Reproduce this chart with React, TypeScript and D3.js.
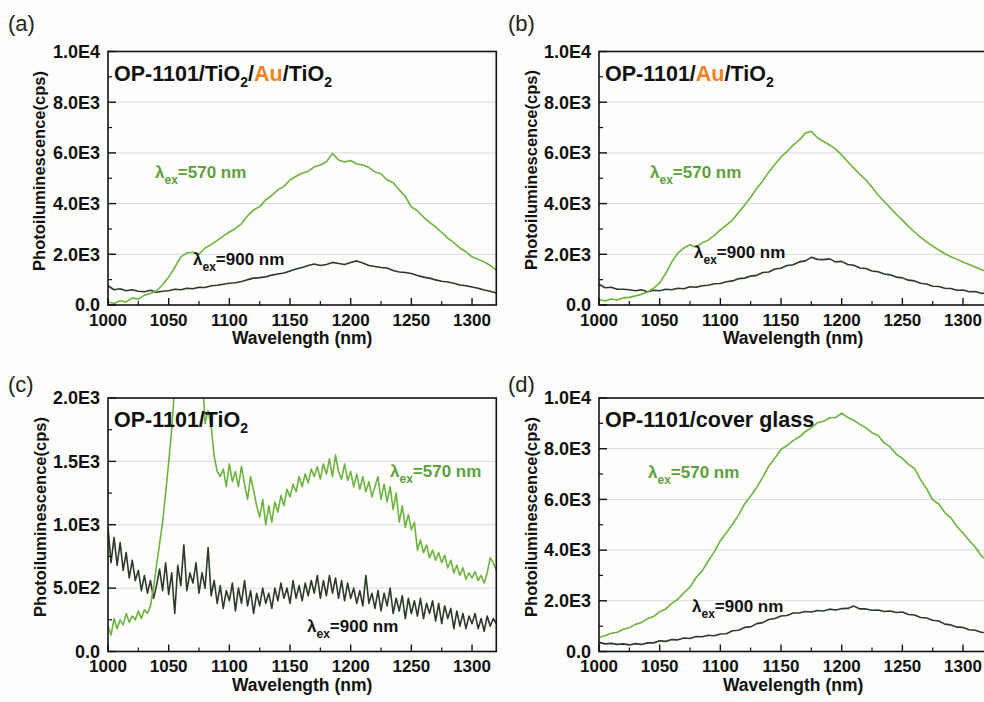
import React from 'react';
import * as d3 from 'd3';

// ---------- data ----------
const WL_MIN = 1000;
const WL_MAX = 1320;
const xTickValues = [1000, 1050, 1100, 1150, 1200, 1250, 1300];
const xTickLabels = ['1000', '1050', '1100', '1150', '1200', '1250', '1300'];
const xMinorTicks = [1025, 1075, 1125, 1175, 1225, 1275];

const yTicksE4 = [0, 2000, 4000, 6000, 8000, 10000];
const yLabelsE4 = ['0.0', '2.0E3', '4.0E3', '6.0E3', '8.0E3', '1.0E4'];
const yMinorE4 = [1000, 3000, 5000, 7000, 9000];
const yTicksC = [0, 500, 1000, 1500, 2000];
const yLabelsC = ['0.0', '5.0E2', '1.0E3', '1.5E3', '2.0E3'];
const yMinorC = [250, 750, 1250, 1750];

// 5 nm sampling, 1000..1320 nm
const greenA = [120, 60, 170, 120, 280, 230, 390, 450, 560, 800, 1100, 1480, 1900, 2050, 2080, 2000, 2250, 2380, 2550, 2720, 2880, 3020, 3200, 3520, 3750, 3880, 4150, 4320, 4540, 4680, 4930, 5080, 5200, 5280, 5450, 5520, 5650, 5980, 5720, 5640, 5700, 5560, 5520, 5420, 5250, 5180, 4930, 4820, 4540, 4280, 3870, 3720, 3470, 3260, 3080, 2860, 2640, 2460, 2250, 2100, 1900, 1800, 1700, 1560, 1380];
const darkA = [760, 600, 640, 560, 600, 540, 520, 580, 500, 540, 560, 620, 600, 660, 640, 700, 690, 760, 780, 820, 860, 880, 930, 1000, 1060, 1080, 1110, 1180, 1220, 1260, 1340, 1420, 1480, 1560, 1620, 1560, 1600, 1680, 1640, 1600, 1680, 1740, 1660, 1560, 1520, 1480, 1460, 1360, 1300, 1280, 1240, 1160, 1100, 1060, 990, 940, 910, 860, 790, 760, 710, 660, 590, 540, 470];
const greenB = [220, 160, 240, 200, 280, 300, 360, 420, 510, 660, 870, 1250, 1700, 2050, 2250, 2380, 2280, 2450, 2560, 2750, 2960, 3150, 3350, 3650, 3940, 4250, 4600, 4900, 5250, 5550, 5840, 6050, 6310, 6500, 6780, 6850, 6600, 6450, 6310, 6150, 5920, 5650, 5400, 5150, 4930, 4650, 4340, 4080, 3830, 3580, 3350, 3100, 2880, 2680, 2490, 2320, 2170, 2020, 1900, 1800, 1700, 1600, 1500, 1400, 1300];
const darkB = [820, 680, 700, 620, 620, 600, 560, 600, 520, 580, 560, 620, 600, 660, 640, 720, 700, 760, 780, 840, 850, 920, 950, 1040, 1060, 1140, 1170, 1280, 1300, 1420, 1450, 1560, 1590, 1700, 1740, 1880, 1800, 1790, 1820, 1700, 1720, 1600, 1570, 1460, 1440, 1340, 1310, 1220, 1190, 1100, 1070, 980, 950, 860, 830, 740, 730, 660, 650, 580, 590, 520, 530, 460, 470];
const greenD = [560, 620, 720, 760, 880, 940, 1070, 1140, 1300, 1380, 1570, 1680, 1900, 2060, 2320, 2540, 2920, 3180, 3570, 3930, 4370, 4680, 5020, 5380, 5820, 6130, 6470, 6880, 7320, 7630, 7970, 8130, 8320, 8460, 8670, 8830, 9020, 9080, 9220, 9230, 9400, 9230, 9120, 8960, 8820, 8630, 8520, 8230, 8070, 7780, 7620, 7380, 7220, 6780, 6420, 5980, 5820, 5480, 5270, 4930, 4670, 4380, 4120, 3780, 3570];
const darkD = [360, 300, 320, 280, 300, 260, 310, 280, 340, 340, 420, 400, 470, 460, 530, 515, 590, 580, 640, 620, 690, 700, 820, 840, 950, 970, 1100, 1140, 1260, 1300, 1400, 1420, 1520, 1520, 1580, 1560, 1620, 1600, 1670, 1640, 1690, 1700, 1790, 1680, 1680, 1630, 1640, 1580, 1600, 1540, 1560, 1460, 1440, 1340, 1320, 1230, 1200, 1080, 1050, 960, 950, 860, 840, 760, 740];

// 2.5 nm sampling, 1000..1320 nm
const greenC = [200, 130, 260, 180, 250, 210, 300, 230, 280, 250,
  320, 260, 330, 300, 360, 500, 680, 850, 1020, 1250,
  1490, 1750, 2100, 2600, 3000, 3300, 3400, 3300, 3100, 2800,
  2500, 2200, 1800, 1900, 1780, 1540, 1420, 1380, 1440, 1300,
  1480, 1340, 1420, 1300, 1460, 1320, 1200, 1380, 1270, 1150,
  1060, 1200, 1000, 1150, 1020, 1180, 1100, 1230, 1150, 1280,
  1220, 1320, 1260, 1380, 1300, 1400, 1330, 1440, 1380, 1460,
  1360, 1480, 1400, 1520, 1380, 1550, 1420, 1360, 1480, 1350,
  1420, 1300, 1400, 1280, 1380, 1260, 1340, 1220, 1300, 1380,
  1200, 1320, 1180, 1300, 1120, 1250, 1020, 1150, 980, 1080,
  960, 1020, 800, 880, 780, 840, 740, 800, 720, 780,
  700, 760, 660, 720, 620, 680, 600, 660, 570, 620,
  580, 630, 560, 600, 540, 620, 740, 700, 640];
const darkC = [980, 700, 900, 680, 860, 640, 780, 580, 720, 560,
  640, 480, 600, 460, 560, 420, 520, 650, 480, 700,
  450, 620, 300, 680, 520, 840, 480, 620, 540, 700,
  460, 620, 500, 820, 440, 560, 380, 520, 340, 480,
  400, 540, 320, 500, 380, 560, 360, 480, 300, 460,
  360, 500, 380, 460, 340, 500, 400, 540, 420, 500,
  380, 560, 420, 520, 400, 540, 440, 560, 460, 600,
  420, 560, 440, 600, 460, 580, 420, 560, 400, 540,
  420, 500, 380, 480, 360, 600, 380, 460, 340, 480,
  320, 460, 360, 500, 300, 420, 320, 440, 260, 420,
  300, 400, 280, 420, 260, 380, 300, 400, 240, 380,
  220, 360, 260, 340, 180, 320, 200, 300, 180, 280,
  220, 300, 180, 260, 160, 280, 200, 260, 220];

// ---------- style ----------
const FONT = "'Liberation Sans', Arial, Helvetica, sans-serif";
const GREEN = '#6cb33f';
const DARK = '#2c3a29';
const GREEN_TEXT = '#5d9f3c';
const ORANGE = '#f08224';
const PW = 388.3;
const PH = 253.5;

type Part = { t: string; sub?: boolean; color?: string };

const titleA: Part[] = [{ t: 'OP-1101/TiO' }, { t: '2', sub: true }, { t: '/' }, { t: 'Au', color: ORANGE }, { t: '/TiO' }, { t: '2', sub: true }];
const titleB: Part[] = [{ t: 'OP-1101/' }, { t: 'Au', color: ORANGE }, { t: '/TiO' }, { t: '2', sub: true }];
const titleC: Part[] = [{ t: 'OP-1101/TiO' }, { t: '2', sub: true }];
const titleD: Part[] = [{ t: 'OP-1101/cover glass' }];

function PartsText({ x, y, parts, size }: { x: number; y: number; parts: Part[]; size: number }) {
  let shift = 0;
  const spans: any[] = [];
  parts.forEach((p, i) => {
    const target = p.sub ? 6 : 0;
    const dy = target - shift;
    shift = target;
    spans.push(
      <tspan key={i} dy={dy} fontSize={p.sub ? size * 0.65 : size} fill={p.color || '#111'}>{p.t}</tspan>
    );
  });
  return <text x={x} y={y} fontFamily={FONT} fontWeight="bold" fontSize={size}>{spans}</text>;
}

function Anno({ x, y, value, color }: { x: number; y: number; value: string; color: string }) {
  return (
    <text x={x} y={y} fontFamily={FONT} fontWeight="bold" fontSize={17} fill={color}>
      <tspan>λ</tspan>
      <tspan dy={6} fontSize={12}>ex</tspan>
      <tspan dy={-6}>{'=' + value + ' nm'}</tspan>
    </text>
  );
}

function Panel(props: any) {
  const { id, left, top, yMax, yTicks, yLabels, yMinor, green, dark, title, label, yTitleX, yTitleY } = props;
  const x = d3.scaleLinear().domain([WL_MIN, WL_MAX]).range([0, PW]);
  const y = d3.scaleLinear().domain([0, yMax]).range([PH, 0]);
  const pathOf = (arr: number[]) => {
    const step = (WL_MAX - WL_MIN) / (arr.length - 1);
    return d3.line<number>().x((_, i) => x(WL_MIN + i * step)).y((d) => y(d))(arr) || '';
  };
  return (
    <g>
      <text x={label.x} y={label.y} fontFamily={FONT} fontSize={22} fill="#222">{label.t}</text>
      <text transform={`translate(${yTitleX},${yTitleY}) rotate(-90)`} textAnchor="middle" fontFamily={FONT} fontWeight="bold" fontSize={16.5} fill="#111">Photoiluminescence(cps)</text>
      <g transform={`translate(${left},${top})`}>
        <defs>
          <clipPath id={`clip-${id}`}>
            <rect x={0} y={0} width={PW} height={PH} />
          </clipPath>
        </defs>
        {yTicks.filter((v: number) => v > 0 && v < yMax).map((v: number) => (
          <line key={'g' + v} x1={0} x2={PW} y1={y(v)} y2={y(v)} stroke="#d9d9d9" strokeWidth={1} />
        ))}
        <g clipPath={`url(#clip-${id})`}>
          <path d={pathOf(dark)} fill="none" stroke={DARK} strokeWidth={1.6} strokeLinejoin="round" />
          <path d={pathOf(green)} fill="none" stroke={GREEN} strokeWidth={1.6} strokeLinejoin="round" />
        </g>
        <rect x={0} y={0} width={PW} height={PH} fill="none" stroke="#111" strokeWidth={1.6} />
        {yTicks.map((v: number, i: number) => (
          <g key={'yt' + v}>
            <line x1={0} x2={8} y1={y(v)} y2={y(v)} stroke="#111" strokeWidth={1.4} />
            <text x={-8} y={y(v)} dy="0.35em" textAnchor="end" fontFamily={FONT} fontWeight="bold" fontSize={18} fill="#111">{yLabels[i]}</text>
          </g>
        ))}
        {yMinor.map((v: number) => (
          <line key={'ym' + v} x1={0} x2={4} y1={y(v)} y2={y(v)} stroke="#111" strokeWidth={1.2} />
        ))}
        {xTickValues.map((v, i) => (
          <g key={'xt' + v}>
            <line x1={x(v)} x2={x(v)} y1={PH} y2={PH - 7} stroke="#111" strokeWidth={1.4} />
            <text x={x(v)} y={PH + 20.5} textAnchor="middle" fontFamily={FONT} fontWeight="bold" fontSize={17} fill="#111">{xTickLabels[i]}</text>
          </g>
        ))}
        {xMinorTicks.map((v) => (
          <line key={'xm' + v} x1={x(v)} x2={x(v)} y1={PH} y2={PH - 4} stroke="#111" strokeWidth={1.2} />
        ))}
        <text x={PW / 2} y={PH + 39} textAnchor="middle" fontFamily={FONT} fontWeight="bold" fontSize={17.5} fill="#111">Wavelength (nm)</text>
        <PartsText x={6} y={29} parts={title} size={21.5} />
      </g>
      {props.children}
    </g>
  );
}

export default function App() {
  return (
    <svg width={984} height={702} style={{ position: 'absolute', left: 0, top: 0 }} xmlns="http://www.w3.org/2000/svg">
      <rect x={0} y={0} width={984} height={702} fill="#fdfdfc" />
      <Panel id="a" left={108} top={51.5} yMax={10000} yTicks={yTicksE4} yLabels={yLabelsE4} yMinor={yMinorE4}
        green={greenA} dark={darkA} title={titleA} label={{ t: '(a)', x: 8, y: 31 }} yTitleX={45} yTitleY={171}>
        <Anno x={155} y={178} value="570" color={GREEN_TEXT} />
        <Anno x={193} y={265} value="900" color="#111" />
      </Panel>
      <Panel id="b" left={599} top={51.5} yMax={10000} yTicks={yTicksE4} yLabels={yLabelsE4} yMinor={yMinorE4}
        green={greenB} dark={darkB} title={titleB} label={{ t: '(b)', x: 508, y: 31 }} yTitleX={537} yTitleY={170}>
        <Anno x={650} y={178} value="570" color={GREEN_TEXT} />
        <Anno x={694} y={258} value="900" color="#111" />
      </Panel>
      <Panel id="c" left={108} top={398} yMax={2000} yTicks={yTicksC} yLabels={yLabelsC} yMinor={yMinorC}
        green={greenC} dark={darkC} title={titleC} label={{ t: '(c)', x: 8, y: 392 }} yTitleX={46} yTitleY={517}>
        <Anno x={390} y={477} value="570" color={GREEN_TEXT} />
        <Anno x={307} y={632} value="900" color="#111" />
      </Panel>
      <Panel id="d" left={599} top={398} yMax={10000} yTicks={yTicksE4} yLabels={yLabelsE4} yMinor={yMinorE4}
        green={greenD} dark={darkD} title={titleD} label={{ t: '(d)', x: 508, y: 392 }} yTitleX={537} yTitleY={517}>
        <Anno x={648} y={478} value="570" color={GREEN_TEXT} />
        <Anno x={692} y={612} value="900" color="#111" />
      </Panel>
    </svg>
  );
}
